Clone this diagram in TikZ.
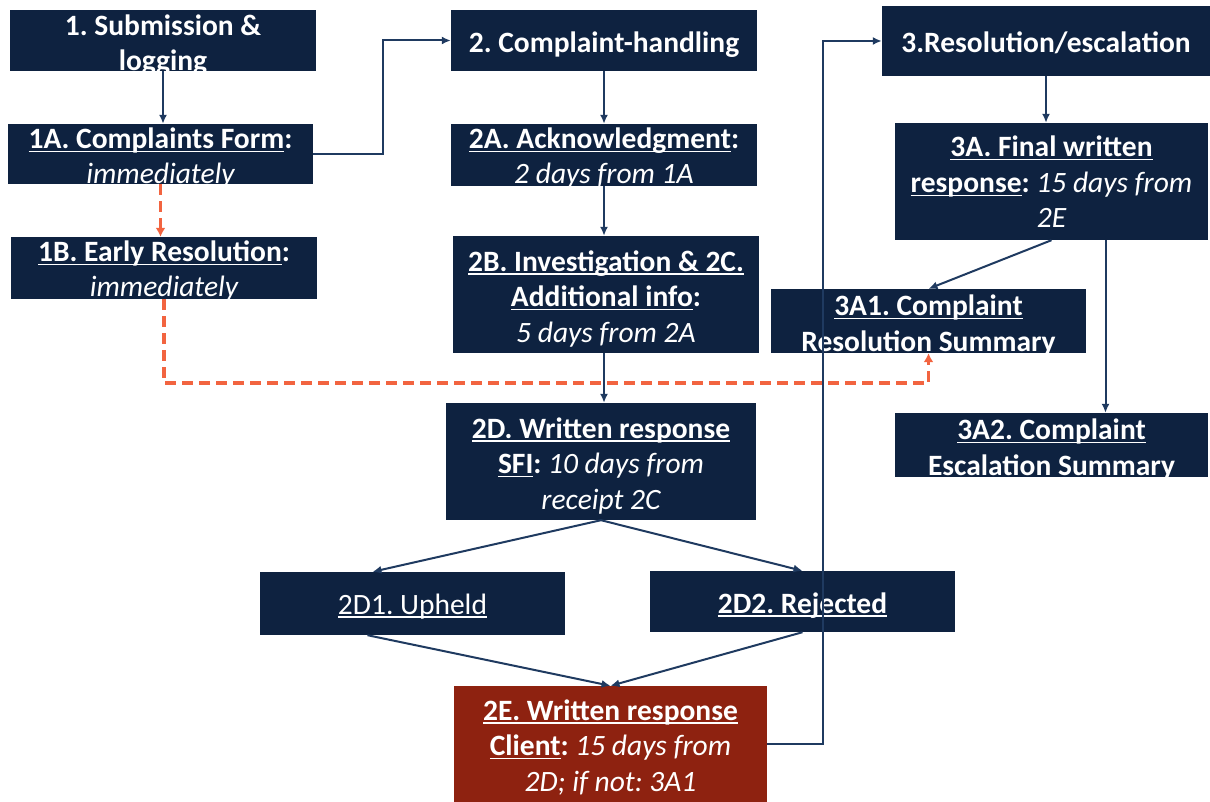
\documentclass[tikz,border=0pt]{standalone}
\usepackage{fontspec}
\setmainfont{Carlito}
\usetikzlibrary{arrows.meta,calc}
\definecolor{navy}{HTML}{0E2240}
\definecolor{conn}{HTML}{1F3A60}
\definecolor{redbox}{HTML}{8E2210}
\definecolor{orng}{HTML}{F26440}
\newcommand\und[1]{\setbox0\hbox{#1}\rlap{\rule[-3.5pt]{\wd0}{1.4pt}}\box0}
\newcommand\itx[1]{{\mdseries\itshape #1}}
\frenchspacing
\begin{document}
\begin{tikzpicture}[x=1pt,y=-1pt,
  box/.style={fill=navy,text=white,inner sep=0pt,align=center,
    font=\bfseries\fontsize{29.5}{35.5}\selectfont\frenchspacing},
  bx/.style n args={3}{minimum width=#1,minimum height=#2,text height=#2-#3,text depth=#3},
  arr/.style={draw=conn,line width=2pt,-{Latex[length=9pt,width=8pt]}},
  darr/.style={draw=orng,line width=3.5pt,dash pattern=on 11pt off 6pt,-{Latex[length=9pt,width=10pt]}}]
\useasboundingbox (0,0) rectangle (1210,802);
\node[box,bx={306}{61}{0}] (b1) at (163,40.5) {1. Submission \&\\logging};
\node[box,bx={305}{60}{0}] (b1a) at (160.5,154) {\und{1A. Complaints Form}:\\\itx{immediately}};
\node[box,bx={306}{62}{2}] (b1b) at (164,268) {\und{1B. Early Resolution}:\\\itx{immediately}};
\node[box,bx={306}{61}{18}] (b2) at (604,40.5) {2. Complaint-handling};
\node[box,bx={306}{62}{2}] (b2a) at (604,155) {\und{2A. Acknowledgment}:\\\itx{2 days from 1A}};
\node[box,bx={306}{117}{11}] (b2b) at (606,294.5) {\und{2B. Investigation \& 2C.}\\\und{Additional info}:\\\itx{5 days from 2A}};
\node[box,bx={328}{70}{23}] (b3) at (1046,41) {3.Resolution/escalation};
\node[box,bx={313}{117}{12}] (b3a) at (1051.5,181.5) {\und{3A. Final written}\\\und{response}: \itx{15 days from}\\\itx{2E}};
\node[box,bx={315}{64}{2}] (b3a1) at (928.5,321) {\und{3A1. Complaint}\\\und{Resolution Summary}};
\node[box,bx={313}{64}{2}] (b3a2) at (1051.5,445) {\und{3A2. Complaint}\\\und{Escalation Summary}};
\node[box,bx={310}{117}{11}] (b2d) at (601,461.5) {\und{2D. Written response}\\\und{SFI}: \itx{10 days from}\\\itx{receipt 2C}};
\node[box,bx={305}{63}{21}] (b2d1) at (412.5,603.5) {\mdseries\und{2D1. Upheld}};
\node[box,bx={305}{61}{19}] (b2d2) at (802.5,601.5) {\und{2D2. Rejected}};
\node[box,fill=redbox,bx={313}{116}{11}] (b2e) at (610.5,744) {\und{2E. Written response}\\\und{Client}: \itx{15 days from}\\\itx{2D; if not: 3A1}};
% connectors
\draw[arr] (b1.south) -- (b1.south |- b1a.north);
\draw[arr] (b1a.east) -- ++(70,0) |- (b2.west);
\draw[darr] (b1a.south) -- (b1a.south |- b1b.north);
\draw[darr] (b1b.south) -- ++(0,84) -| (b3a1.south);
\draw[arr] (b2.south) -- (b2.south |- b2a.north);
\draw[arr] (b2a.south) -- (b2a.south |- b2b.north);
\draw[arr] (b2a.south |- b2b.south) -- (b2a.south |- b2d.north);
\draw[arr] (b3.south) -- (b3.south |- b3a.north);
\draw[arr] (b3a.south) -- (b3a1.north);
\draw[arr] ($(b3a.south)+(54,0)$) -- ($(b3a.south |- b3a2.north)+(54,0)$);
\draw[arr] (b2d.south) -- ($(b2d1.north)+(-40,0)$);
\draw[arr] (b2d.south) -- (b2d2.north);
\draw[arr] ($(b2d1.south)+(-45,0)$) -- (b2e.north);
\draw[arr] (b2d2.south) -- (b2e.north);
\draw[arr] (b2e.east) -- ++(56,0) |- (b3.west);
\end{tikzpicture}
\end{document}
